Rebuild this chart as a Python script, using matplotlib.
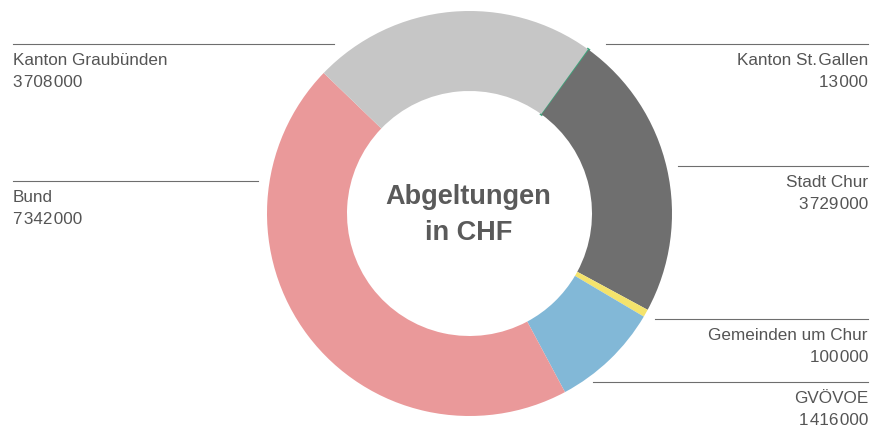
import matplotlib
matplotlib.use("Agg")
import matplotlib.pyplot as plt

# data, clockwise starting at Kanton St. Gallen
names = ["Kanton St.\u200aGallen", "Stadt Chur", "Gemeinden um Chur", "GVÖVOE", "Bund", "Kanton Graubünden"]
values = [13000, 3729000, 100000, 1416000, 7342000, 3708000]
colors = ["#3ea57c", "#6f6f6f", "#f4e36c", "#82b8d7", "#ea999a", "#c6c6c6"]

# label placement (pixels from top-left): line y, line x0, line x1, side
label_pos = {
    "Kanton Graubünden": (44, 13, 334, "left"),
    "Bund": (181, 13, 258, "left"),
    "Kanton St.\u200aGallen": (44, 606, 868, "right"),
    "Stadt Chur": (166, 678, 868, "right"),
    "Gemeinden um Chur": (319, 655, 868, "right"),
    "GVÖVOE": (382, 593, 868, "right"),
}

W, H = 873, 430
plt.rcParams['font.family'] = ['Liberation Sans', 'DejaVu Sans']
txt = "#555555"

fig = plt.figure(figsize=(W / 100, H / 100), dpi=100)
ax = fig.add_axes([0, 0, 1, 1])

cx, cy, r = 469.5, 213.5, 202.5
wedges, _ = ax.pie(values, colors=colors, startangle=54.2, counterclock=False,
                   center=(cx, H - cy), radius=r, frame=True,
                   wedgeprops=dict(width=r - 122.5, linewidth=0))
# the St. Gallen sliver is drawn a bit thicker so it stays visible
wedges[0].set_edgecolor(colors[0])
wedges[0].set_linewidth(1.8)
ax.set_xlim(0, W)
ax.set_ylim(0, H)
ax.set_aspect("auto")
ax.axis("off")


def fmt(v):
    return f"{v:,}".replace(",", "\u200a")


for name, v in zip(names, values):
    ly, x0, x1, side = label_pos[name]
    ax.plot([x0, x1], [H - ly, H - ly], color="#6e6e6e", lw=0.8)
    tx = x0 if side == "left" else x1
    ax.text(tx, H - (ly + 21), name, ha=side, va="baseline", fontsize=12.3, color=txt)
    ax.text(tx, H - (ly + 43), fmt(v), ha=side, va="baseline", fontsize=12.3, color=txt)

ax.text(cx - 1, H - 215, "Abgeltungen\nin CHF", ha="center", va="center", fontsize=19.5,
        fontweight="bold", color="#5a5a5a", linespacing=1.45)

fig.savefig("out.png", dpi=100)
